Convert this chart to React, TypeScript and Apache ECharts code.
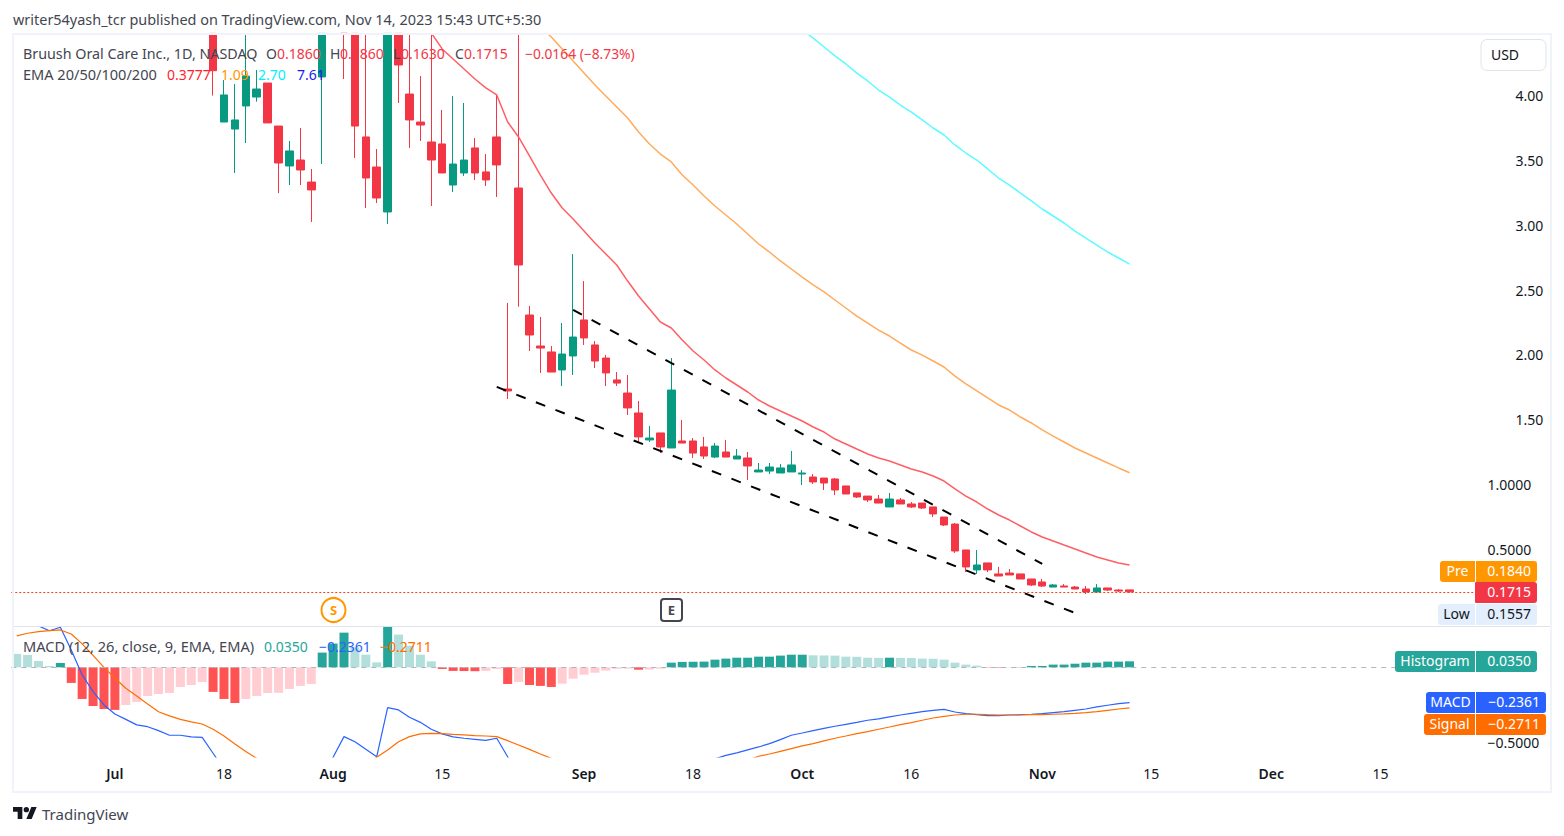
import React, { useEffect, useRef } from "react";
import * as echarts from "echarts";

const dates = [
  "2023-06-20","2023-06-21","2023-06-22","2023-06-23","2023-06-26","2023-06-27","2023-06-28","2023-06-29","2023-06-30",
  "2023-07-03","2023-07-05","2023-07-06","2023-07-07","2023-07-10","2023-07-11","2023-07-12","2023-07-13","2023-07-14",
  "2023-07-17","2023-07-18","2023-07-19","2023-07-20","2023-07-21","2023-07-24","2023-07-25","2023-07-26","2023-07-27","2023-07-28","2023-07-31",
  "2023-08-01","2023-08-02","2023-08-03","2023-08-04","2023-08-07","2023-08-08","2023-08-09","2023-08-10","2023-08-11",
  "2023-08-14","2023-08-15","2023-08-16","2023-08-17","2023-08-18","2023-08-21","2023-08-22","2023-08-23","2023-08-24","2023-08-25",
  "2023-08-28","2023-08-29","2023-08-30","2023-08-31",
  "2023-09-01","2023-09-05","2023-09-06","2023-09-07","2023-09-08","2023-09-11","2023-09-12","2023-09-13","2023-09-14","2023-09-15",
  "2023-09-18","2023-09-19","2023-09-20","2023-09-21","2023-09-22","2023-09-25","2023-09-26","2023-09-27","2023-09-28","2023-09-29",
  "2023-10-02","2023-10-03","2023-10-04","2023-10-05","2023-10-06","2023-10-09","2023-10-10","2023-10-11","2023-10-12","2023-10-13",
  "2023-10-16","2023-10-17","2023-10-18","2023-10-19","2023-10-20","2023-10-23","2023-10-24","2023-10-25","2023-10-26","2023-10-27",
  "2023-10-30","2023-10-31",
  "2023-11-01","2023-11-02","2023-11-03","2023-11-06","2023-11-07","2023-11-08","2023-11-09","2023-11-10","2023-11-13","2023-11-14",
  "2023-11-15","2023-11-16","2023-11-17","2023-11-20","2023-11-21","2023-11-22","2023-11-24","2023-11-27","2023-11-28","2023-11-29","2023-11-30",
  "2023-12-01","2023-12-04","2023-12-05","2023-12-06","2023-12-07","2023-12-08","2023-12-11","2023-12-12","2023-12-13","2023-12-14",
  "2023-12-15","2023-12-18","2023-12-19","2023-12-20","2023-12-21","2023-12-22","2023-12-26","2023-12-27","2023-12-28",
];

const timeTicks: Record<string, string> = {
  "2023-07-03": "Jul", "2023-07-18": "18", "2023-08-01": "Aug", "2023-08-15": "15",
  "2023-09-01": "Sep", "2023-09-18": "18", "2023-10-02": "Oct", "2023-10-16": "16",
  "2023-11-01": "Nov", "2023-11-15": "15", "2023-12-01": "Dec", "2023-12-15": "15",
};

const priceTicksShort = [1.5, 2, 2.5, 3, 3.5, 4];
const priceTicksLong = [0.5, 1];
const macdTicks = [-0.5];

// Candles start at the 19th session; earlier ones sit above the visible price range.
const candleStart = 18;
const opens = [4.75,3.796,3.742,3.920,3.989,4.097,3.765,3.457,3.503,3.333,4.144,5.1,5.0,5.2,3.681,3.449,3.102,5.0,4.012,3.796,3.642,3.627,3.310,3.403,3.596,3.411,3.681,1.736,3.287,2.307,2.068,2.022,1.883,1.991,2.269,2.076,1.975,1.806,1.705,1.551,1.343,1.397,1.281,1.335,1.335,1.289,1.211,1.250,1.196,1.204,1.096,1.103,1.088,1.096,1.080,1.057,1.049,1.042,0.988,0.934,0.910,0.887,0.826,0.880,0.849,0.856,0.826,0.748,0.694,0.494,0.340,0.394,0.309,0.316,0.309,0.270,0.247,0.208,0.216,0.208,0.193,0.170,0.201,0.185,0.186];
const closes = [4.192,4.005,3.812,4.151,4.051,3.789,3.480,3.573,3.426,3.272,4.9,5.4,5.3,3.765,3.364,3.210,5.0,4.236,3.812,3.773,3.503,3.403,3.472,3.503,3.403,3.349,3.465,1.721,2.693,2.153,2.052,1.867,2.006,2.137,2.130,1.952,1.860,1.782,1.590,1.366,1.358,1.289,1.728,1.319,1.242,1.219,1.296,1.211,1.219,1.142,1.111,1.134,1.127,1.150,1.088,1.019,1.011,0.957,0.926,0.903,0.880,0.856,0.887,0.849,0.826,0.818,0.772,0.687,0.486,0.363,0.378,0.340,0.293,0.301,0.270,0.224,0.216,0.224,0.208,0.193,0.170,0.201,0.185,0.177,0.1715];
const lows = [4.0,3.796,3.403,3.634,3.953,3.789,3.248,3.310,3.310,3.025,3.472,4.6,4.128,3.519,3.133,3.171,3.009,3.943,3.596,3.650,3.148,3.403,3.256,3.380,3.349,3.302,3.218,1.659,2.371,2.029,1.860,1.867,1.759,1.844,2.076,1.898,1.759,1.759,1.535,1.319,1.327,1.242,1.281,1.319,1.204,1.196,1.204,1.211,1.196,1.034,1.096,1.080,1.088,1.096,0.995,1.003,0.957,0.918,0.926,0.895,0.864,0.856,0.826,0.849,0.818,0.810,0.748,0.679,0.471,0.324,0.309,0.324,0.293,0.301,0.270,0.216,0.208,0.208,0.208,0.193,0.154,0.170,0.177,0.170,0.163];
const highs = [5.0,4.120,4.090,4.6,4.198,4.097,3.765,3.650,3.750,3.434,5.2,5.6,5.6,5.4,4.7,3.588,5.2,5.2,4.7,4.151,4.7,3.889,3.997,3.943,3.673,3.549,4.005,2.400,4.6,2.377,2.292,2.068,2.245,2.778,2.569,2.106,1.998,1.867,1.844,1.644,1.451,1.397,1.975,1.497,1.358,1.366,1.319,1.343,1.273,1.250,1.165,1.165,1.157,1.258,1.111,1.080,1.049,1.049,0.988,0.934,0.910,0.918,0.934,0.895,0.864,0.856,0.826,0.748,0.702,0.494,0.494,0.394,0.363,0.347,0.309,0.270,0.270,0.231,0.231,0.216,0.216,0.231,0.201,0.193,0.186];

const ema20Start = 38;
const ema20 = [4.483,4.360,4.282,4.205,4.128,4.059,4.005,3.796,3.681,3.534,3.387,3.248,3.133,3.048,2.955,2.863,2.778,2.693,2.569,2.454,2.353,2.253,2.207,2.114,2.029,1.96,1.883,1.821,1.767,1.713,1.651,1.605,1.566,1.528,1.489,1.443,1.404,1.350,1.312,1.273,1.235,1.204,1.181,1.150,1.119,1.096,1.065,1.026,0.965,0.910,0.864,0.810,0.764,0.725,0.679,0.633,0.594,0.563,0.532,0.502,0.471,0.440,0.417,0.394,0.3777];
const ema50Start = 48;
const ema50 = [4.529,4.452,4.360,4.267,4.174,4.082,3.997,3.912,3.827,3.719,3.627,3.549,3.488,3.387,3.310,3.225,3.148,3.079,3.009,2.932,2.855,2.793,2.724,2.662,2.600,2.539,2.485,2.423,2.361,2.299,2.245,2.191,2.145,2.091,2.037,1.998,1.952,1.906,1.836,1.775,1.721,1.667,1.613,1.574,1.520,1.474,1.420,1.373,1.327,1.281,1.242,1.204,1.165,1.127,1.09];
const ema100Start = 72;
const ema100 = [4.506,4.444,4.375,4.306,4.244,4.174,4.113,4.043,3.989,3.927,3.873,3.812,3.750,3.696,3.619,3.557,3.503,3.434,3.364,3.310,3.248,3.187,3.125,3.071,3.017,2.955,2.901,2.847,2.793,2.747,2.70];

// Dashed channel drawn on the chart: end points as [session index, price].
const channelUpper = [[51, 2.346], [94, 0.386]];
const channelLower = [[44, 1.752], [97, 0.008]];

const lastPrice = 0.1715;

const histogram = [0.089,0.082,0.042,0.009,0.029,-0.104,-0.211,-0.258,-0.278,-0.284,-0.251,-0.231,-0.191,-0.178,-0.171,-0.131,-0.118,-0.098,-0.164,-0.211,-0.238,-0.211,-0.191,-0.171,-0.170,-0.144,-0.124,-0.111,0.098,0.158,0.231,0.133,0.084,0.033,0.271,0.218,0.144,0.084,0.040,-0.011,-0.024,-0.025,-0.026,-0.024,-0.011,-0.111,-0.098,-0.118,-0.124,-0.131,-0.109,-0.076,-0.049,-0.036,-0.022,-0.010,-0.009,-0.016,-0.015,-0.009,0.031,0.036,0.037,0.038,0.051,0.058,0.064,0.064,0.071,0.071,0.078,0.084,0.084,0.080,0.079,0.078,0.071,0.070,0.064,0.063,0.064,0.063,0.062,0.058,0.057,0.051,0.031,0.018,0.011,-0.002,-0.003,-0.002,0.002,0.009,0.009,0.018,0.018,0.024,0.031,0.031,0.038,0.038,0.040];
const macdLine = [0.33,0.30,0.276,0.244,0.267,0.116,-0.051,-0.162,-0.251,-0.311,-0.347,-0.384,-0.396,-0.422,-0.453,-0.453,-0.464,-0.467,-0.573,-0.68,-0.80,-0.88,-0.93,-0.97,-0.98,-0.96,-0.92,-0.84,-0.72,-0.60,-0.462,-0.496,-0.547,-0.596,-0.269,-0.284,-0.333,-0.367,-0.413,-0.444,-0.464,-0.473,-0.48,-0.487,-0.473,-0.596,-0.72,-0.82,-0.90,-0.94,-0.96,-0.97,-0.97,-0.96,-0.95,-0.93,-0.91,-0.89,-0.86,-0.83,-0.79,-0.74,-0.69,-0.65,-0.61,-0.587,-0.57,-0.55,-0.531,-0.509,-0.482,-0.453,-0.438,-0.422,-0.407,-0.393,-0.38,-0.367,-0.353,-0.344,-0.331,-0.318,-0.307,-0.296,-0.287,-0.28,-0.298,-0.309,-0.316,-0.322,-0.322,-0.318,-0.316,-0.313,-0.309,-0.302,-0.296,-0.287,-0.278,-0.264,-0.253,-0.242,-0.2361];
const signalLine = [0.209,0.227,0.238,0.244,0.249,0.222,0.156,0.08,0,-0.073,-0.14,-0.191,-0.244,-0.296,-0.324,-0.347,-0.364,-0.378,-0.413,-0.458,-0.511,-0.562,-0.607,-0.65,-0.69,-0.72,-0.75,-0.77,-0.78,-0.76,-0.73,-0.70,-0.65,-0.6,-0.551,-0.496,-0.462,-0.444,-0.44,-0.442,-0.447,-0.451,-0.456,-0.458,-0.462,-0.489,-0.518,-0.547,-0.578,-0.607,-0.64,-0.68,-0.72,-0.75,-0.77,-0.78,-0.79,-0.80,-0.80,-0.80,-0.79,-0.78,-0.76,-0.74,-0.71,-0.68,-0.65,-0.62,-0.593,-0.578,-0.56,-0.542,-0.524,-0.509,-0.491,-0.473,-0.458,-0.442,-0.429,-0.413,-0.398,-0.382,-0.369,-0.353,-0.338,-0.327,-0.318,-0.313,-0.313,-0.316,-0.318,-0.318,-0.318,-0.316,-0.316,-0.313,-0.311,-0.307,-0.302,-0.296,-0.287,-0.278,-0.2711];

const FONT = '"Noto Sans", sans-serif';
const UP = "#089981";
const DOWN = "#F23645";
const INK = "#131722";
const SLOT = 10.91;
const PANE_TOP = 4.48; // candle parts above the pane are cut at its edge, under the frame

const logoPath = "M14 22H7V11H0V4h14v18zM28 22h-8l7.5-18h8L28 22zM24 8a4 4 0 1 1-8 0a4 4 0 1 1 8 0z";

function pad(start: number, values: any[]) {
  return [...new Array(start).fill(null), ...values];
}

function endpoints(pts: number[][]) {
  const out = new Array(dates.length).fill(null);
  pts.forEach(([i, v]) => { out[i] = v; });
  return out;
}

function txt(text: string, x: number, y: number, fill: string, extra: any = {}) {
  return {
    type: "text", z: 100, silent: true,
    style: { text, x, y, fill, fontFamily: FONT, fontSize: 14, verticalAlign: "middle", align: "left", ...extra },
  };
}

function tag(label: string, value: string, top: number, labelX: number, valueEnd: number, bg: string, fg: string) {
  const h = 21;
  return [
    { type: "rect", z: 100, silent: true, shape: { x: labelX, y: top, width: 1475 - labelX, height: h, r: [3, 0, 0, 3] }, style: { fill: bg } },
    { type: "rect", z: 100, silent: true, shape: { x: 1476, y: top, width: valueEnd - 1476, height: h, r: [0, 3, 3, 0] }, style: { fill: bg } },
    txt(label, (labelX + 1475) / 2, top + h / 2 - 1, fg, { align: "center" }),
    txt(value, valueEnd - 6, top + h / 2 - 1, fg, { align: "right" }),
  ];
}

export default function App() {
  const ref = useRef<HTMLDivElement>(null);
  useEffect(() => {
    document.body.style.margin = "0";
    echarts.graphic.registerShape("tvlogo", echarts.graphic.extendPath(logoPath, {}));
    const chart = echarts.init(ref.current!, null, { renderer: "svg" });

    const cut = (v: number) => Math.min(v, PANE_TOP);
    const candles = opens.map((o, k) =>
      lows[k] >= PANE_TOP ? "-" : [cut(o), cut(closes[k]), cut(lows[k]), cut(highs[k])]
    );
    const histData = histogram.map((v, k) => {
      const prev = k > 0 ? histogram[k - 1] : 0.1;
      const color = v >= 0 ? (v >= prev ? "#26A69A" : "#B2DFDB") : (v < prev ? "#FF5252" : "#FFCDD2");
      return { value: v, itemStyle: { color } };
    });

    const graphics: any[] = [
      { type: "rect", z: 90, silent: true, shape: { x: 13, y: 34, width: 1538, height: 758 }, style: { fill: "none", stroke: "#F0F3FA", lineWidth: 2 } },
      { type: "line", z: 90, silent: true, shape: { x1: 14, y1: 626.5, x2: 1550, y2: 626.5 }, style: { stroke: "#E0E3EB", lineWidth: 1 } },
      txt("writer54yash_tcr published on TradingView.com, Nov 14, 2023 15:43 UTC+5:30", 13, 19, "#434651", { fontSize: 14.44 }),
      txt("Bruush Oral Care Inc., 1D, NASDAQ", 23, 53, "#434651", { fontSize: 14.3 }),
      txt("O", 266, 53, "#434651"), txt("0.1860", 277, 53, DOWN),
      txt("H", 330, 53, "#434651"), txt("0.1860", 340, 53, DOWN),
      txt("L", 393, 53, "#434651"), txt("0.1630", 401, 53, DOWN),
      txt("C", 455, 53, "#434651"), txt("0.1715", 464, 53, DOWN),
      txt("\u22120.0164 (\u22128.73%)", 525, 53, DOWN, { fontSize: 13.8 }),
      txt("EMA 20/50/100/200", 23, 74, "#434651", { fontSize: 14.55 }),
      txt("0.3777", 167, 74, "#FF1E2D"), txt("1.09", 221, 74, "#FF9800"),
      txt("2.70", 258, 74, "#00F0FF"), txt("7.61", 297, 74, "#1A1AF0"),
      txt("MACD (12, 26, close, 9, EMA, EMA)", 23, 646, "#434651", { fontSize: 14.6 }),
      txt("0.0350", 264, 646, "#26A69A"), txt("\u22120.2361", 319, 646, "#2962FF"), txt("\u22120.2711", 380, 646, "#FF6D00"),
      { type: "rect", z: 100, silent: true, shape: { x: 1481, y: 39.5, width: 65, height: 31, r: 6 }, style: { fill: "#fff", stroke: "#E0E3EB", lineWidth: 1 } },
      txt("USD", 1505, 54, INK, { align: "center" }),
      { type: "circle", z: 100, silent: true, shape: { cx: 333.5, cy: 610, r: 12 }, style: { fill: "#fff", stroke: "#FF9800", lineWidth: 2 } },
      txt("S", 333.5, 610, "#FF9800", { align: "center", fontSize: 13, fontWeight: 700 }),
      { type: "rect", z: 100, silent: true, shape: { x: 661, y: 599, width: 21, height: 22, r: 3 }, style: { fill: "#fff", stroke: "#434651", lineWidth: 2 } },
      txt("E", 671.5, 610, "#434651", { align: "center", fontSize: 13, fontWeight: 700 }),
      ...tag("Pre", "0.1840", 561, 1440, 1537, "#FF9800", "#fff"),
      ...tag("", "0.1715", 582, 1476, 1537, DOWN, "#fff"),
      ...tag("Low", "0.1557", 604, 1438, 1537, "#E3EFFD", INK),
      ...tag("Histogram", "0.0350", 651, 1395, 1537, "#26A69A", "#fff"),
      ...tag("MACD", "\u22120.2361", 692, 1426, 1546, "#2962FF", "#fff"),
      ...tag("Signal", "\u22120.2711", 714, 1424, 1546, "#FF6D00", "#fff"),
      { type: "tvlogo", z: 100, silent: true, x: 13, y: 804.3, scaleX: 0.667, scaleY: 0.667, style: { fill: "#131722" } },
      txt("TradingView", 42, 813.5, "#434651", { fontSize: 15 }),
    ];

    const axisPad = [0, 0, 2, 0];

    chart.setOption({
      animation: false,
      backgroundColor: "#fff",
      graphic: { elements: graphics },
      grid: [
        { left: 11.25, top: 35, width: SLOT * dates.length, height: 591 },
        { left: 11.25, top: 627, width: SLOT * dates.length, height: 130 },
      ],
      xAxis: [
        { type: "category", gridIndex: 0, data: dates, show: false },
        {
          type: "category", gridIndex: 1, data: dates,
          axisLine: { show: false }, axisTick: { show: false }, splitLine: { show: false },
          axisLabel: {
            interval: (_i: number, v: string) => v in timeTicks,
            margin: 9, color: INK, fontFamily: FONT, fontSize: 14,
            formatter: (v: string) => {
              const t = timeTicks[v] ?? "";
              return /^[A-Z]/.test(t) ? `{m|${t}}` : t;
            },
            rich: { m: { fontFamily: FONT, fontSize: 14, fontWeight: 600, color: INK } },
          },
        },
      ],
      yAxis: [
        {
          type: "value", gridIndex: 0, position: "right", min: -0.0926, max: 4.4676,
          axisLine: { show: false }, axisTick: { show: false }, splitLine: { show: false },
          axisLabel: { customValues: priceTicksShort, align: "right", margin: 70, padding: axisPad, color: INK, fontFamily: FONT, fontSize: 14, formatter: (v: number) => v.toFixed(2) },
        },
        {
          type: "value", gridIndex: 0, position: "right", min: -0.0926, max: 4.4676,
          axisLine: { show: false }, axisTick: { show: false }, splitLine: { show: false },
          axisLabel: { customValues: priceTicksLong, align: "right", margin: 58, padding: axisPad, color: INK, fontFamily: FONT, fontSize: 14, formatter: (v: number) => v.toFixed(4) },
        },
        {
          type: "value", gridIndex: 1, position: "right", min: -0.598, max: 0.2687,
          axisLine: { show: false }, axisTick: { show: false }, splitLine: { show: false },
          axisLabel: { customValues: macdTicks, align: "right", margin: 66, padding: axisPad, color: INK, fontFamily: FONT, fontSize: 14, formatter: (v: number) => "\u2212" + Math.abs(v).toFixed(4) },
        },
      ],
      series: [
        {
          type: "candlestick", xAxisIndex: 0, yAxisIndex: 0, barWidth: 8, clip: true,
          data: pad(candleStart, candles).map((c: any) => (c === null ? "-" : c)),
          itemStyle: { color: UP, color0: DOWN, borderColor: UP, borderColor0: DOWN, borderWidth: 1 },
          markLine: {
            silent: true, symbol: "none", label: { show: false }, animation: false,
            lineStyle: { color: "#F0401F", type: [2, 2], width: 1 },
            data: [{ yAxis: lastPrice }],
          },
        },
        { type: "line", xAxisIndex: 0, yAxisIndex: 0, data: pad(ema20Start, ema20), showSymbol: false, symbol: "none", lineStyle: { color: "#FF5F64", width: 1.5 } },
        { type: "line", xAxisIndex: 0, yAxisIndex: 0, data: pad(ema50Start, ema50), showSymbol: false, symbol: "none", lineStyle: { color: "#FFAB5C", width: 1.5 } },
        { type: "line", xAxisIndex: 0, yAxisIndex: 0, data: pad(ema100Start, ema100), showSymbol: false, symbol: "none", lineStyle: { color: "#5CFBFF", width: 1.5 } },
        { type: "line", xAxisIndex: 0, yAxisIndex: 0, data: endpoints(channelUpper), connectNulls: true, showSymbol: false, symbol: "none", lineStyle: { color: "#000", width: 2, type: [10, 11] } },
        { type: "line", xAxisIndex: 0, yAxisIndex: 0, data: endpoints(channelLower), connectNulls: true, showSymbol: false, symbol: "none", lineStyle: { color: "#000", width: 2, type: [10, 11] } },
        {
          type: "bar", xAxisIndex: 1, yAxisIndex: 2, barWidth: 9, data: histData,
          markLine: {
            silent: true, symbol: "none", label: { show: false }, animation: false,
            lineStyle: { color: "#B2B5BE", type: [5, 5], width: 1 },
            data: [{ yAxis: 0 }],
          },
        },
        { type: "line", xAxisIndex: 1, yAxisIndex: 2, data: macdLine, showSymbol: false, symbol: "none", lineStyle: { color: "#2962FF", width: 1.2 } },
        { type: "line", xAxisIndex: 1, yAxisIndex: 2, data: signalLine, showSymbol: false, symbol: "none", lineStyle: { color: "#FF6D00", width: 1.2 } },
      ],
    });
    return () => chart.dispose();
  }, []);
  return <div ref={ref} style={{ position: "fixed", left: 0, top: 0, width: 1564, height: 836 }} />;
}
